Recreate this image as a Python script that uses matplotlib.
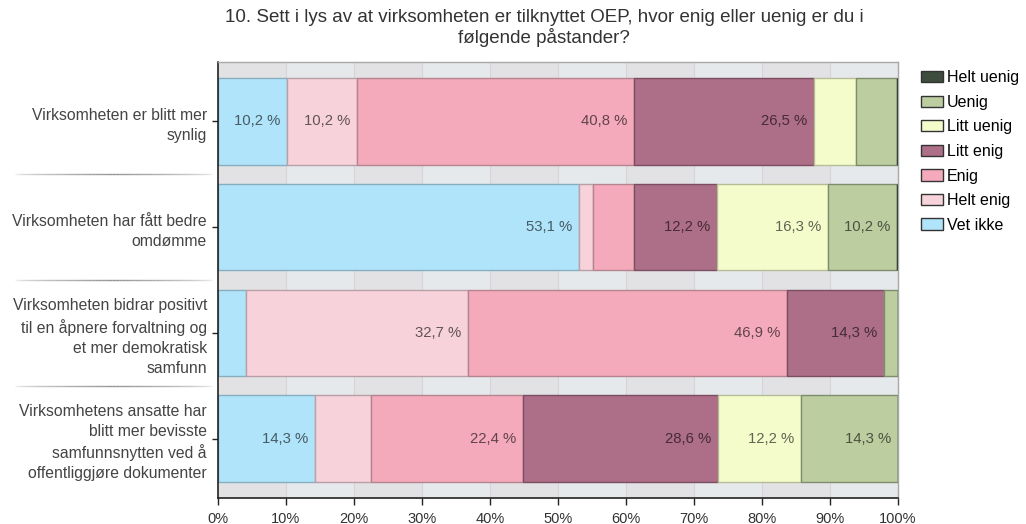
import matplotlib
matplotlib.use("Agg")
import matplotlib.pyplot as plt
import numpy as np
from matplotlib.patches import Patch
from matplotlib.collections import LineCollection
import matplotlib.transforms as mtransforms

plt.rcParams['font.family'] = ['Liberation Sans', 'DejaVu Sans']

title = "10. Sett i lys av at virksomheten er tilknyttet OEP, hvor enig eller uenig er du i\nfølgende påstander?"

categories = [
    "Virksomheten er blitt mer\nsynlig",
    "Virksomheten har fått bedre\nomdømme",
    "Virksomheten bidrar positivt\ntil en åpnere forvaltning og\net mer demokratisk\nsamfunn",
    "Virksomhetens ansatte har\nblitt mer bevisste\nsamfunnsnytten ved å\noffentliggjøre dokumenter",
]

# series in stacking order (left to right)
series_names = ["Vet ikke", "Helt enig", "Enig", "Litt enig", "Litt uenig", "Uenig", "Helt uenig"]
vet_ikke   = [10.2, 53.1, 4.1, 14.3]
helt_enig  = [10.2, 2.0, 32.7, 8.2]
enig       = [40.8, 6.1, 46.9, 22.4]
litt_enig  = [26.5, 12.2, 14.3, 28.6]
litt_uenig = [6.1, 16.3, 0.0, 12.2]
uenig      = [6.1, 10.2, 2.0, 14.3]
helt_uenig = [0.0, 0.0, 0.0, 0.0]

series_values = [vet_ikke, helt_enig, enig, litt_enig, litt_uenig, uenig, helt_uenig]
colors = {
    "Vet ikke": "#b0e4fb",
    "Helt enig": "#f7d2da",
    "Enig": "#f4aabb",
    "Litt enig": "#ad6e87",
    "Litt uenig": "#f5fccc",
    "Uenig": "#bccea0",
    "Helt uenig": "#3e4c3e",
}
edge_colors = {
    "Vet ikke": "#86aebf",
    "Helt enig": "#b8a0a6",
    "Enig": "#b68490",
    "Litt enig": "#7a4d5f",
    "Litt uenig": "#b6bc98",
    "Uenig": "#7f8c6c",
    "Helt uenig": "#202820",
}
xticks = [0, 10, 20, 30, 40, 50, 60, 70, 80, 90, 100]
xticklabels = [f"{t}%" for t in xticks]

fig = plt.figure(figsize=(10.26, 5.24), dpi=100)
ax = fig.add_axes([218/1026, 26/524, 680/1026, 436/524])

# alternating background bands
for i in range(10):
    ax.axvspan(i*10, (i+1)*10, color="#e2e2e4" if i % 2 == 0 else "#e6e9ec", zorder=0, lw=0)
for t in xticks[1:-1]:
    ax.axvline(t, color="#d4d4d6", lw=0.8, zorder=0.5)

y = np.arange(len(categories))
left = np.zeros(len(categories))
for name, vals in zip(series_names, series_values):
    vals = np.array(vals)
    ax.barh(y, vals, left=left, height=0.82, color=colors[name],
            edgecolor=edge_colors[name], linewidth=1.0, zorder=2)
    for yi, (l, v) in enumerate(zip(left, vals)):
        if v >= 10:
            ax.text(l + v - 1.0, yi, f"{v:.1f} %".replace(".", ","),
                    ha="right", va="center", fontsize=10.7, color="black", alpha=0.6, zorder=3)
    left = left + vals

ax.set_xlim(0, 100)
ax.set_ylim(3.563, -0.563)
ax.set_xticks(xticks)
ax.set_xticklabels(xticklabels, fontsize=10.5, color="#333333")
ax.set_yticks(y)
ax.set_yticklabels(categories, fontsize=11.3, color="#444444", linespacing=1.42)
ax.tick_params(axis="x", length=5, width=1, color="#222222", pad=5)
ax.tick_params(axis="y", length=4, width=1, color="#222222", pad=4)
for s in ["left", "bottom"]:
    ax.spines[s].set_color("#222222")
    ax.spines[s].set_linewidth(1.2)
for s in ["top", "right"]:
    ax.spines[s].set_color("#a8a8a8")
    ax.spines[s].set_linewidth(1.0)

# separators in label area
trans = mtransforms.blended_transform_factory(fig.transFigure, ax.transData)
xs = np.linspace(15/1026, 212/1026, 60)
for ys in [0.5, 1.5, 2.5]:
    segs = [[(xs[i], ys), (xs[i+1], ys)] for i in range(len(xs)-1)]
    mid = np.linspace(-1, 1, len(xs)-1)
    alphas = 0.1 + 0.55 * (1 - np.abs(mid)) ** 0.6
    cols = [(0.35, 0.35, 0.35, a) for a in alphas]
    lc = LineCollection(segs, colors=cols, linewidths=1.0, transform=trans, clip_on=False)
    ax.add_collection(lc)

fig.text(544/1026, 1 - 28/524, title, ha="center", va="center", fontsize=13.5, color="#333333", linespacing=1.15)

legend_order = ["Helt uenig", "Uenig", "Litt uenig", "Litt enig", "Enig", "Helt enig", "Vet ikke"]
handles = [Patch(facecolor=colors[n], edgecolor="#333333", linewidth=1.0, label=n) for n in legend_order]
fig.legend(handles=handles, loc="upper left", bbox_to_anchor=(918/1026, 1 - 67/524),
           frameon=False, fontsize=11.5, handlelength=1.35, handleheight=0.72,
           labelspacing=0.6, handletextpad=0.25, borderaxespad=0, borderpad=0.2)

fig.savefig("out.png", dpi=100)
